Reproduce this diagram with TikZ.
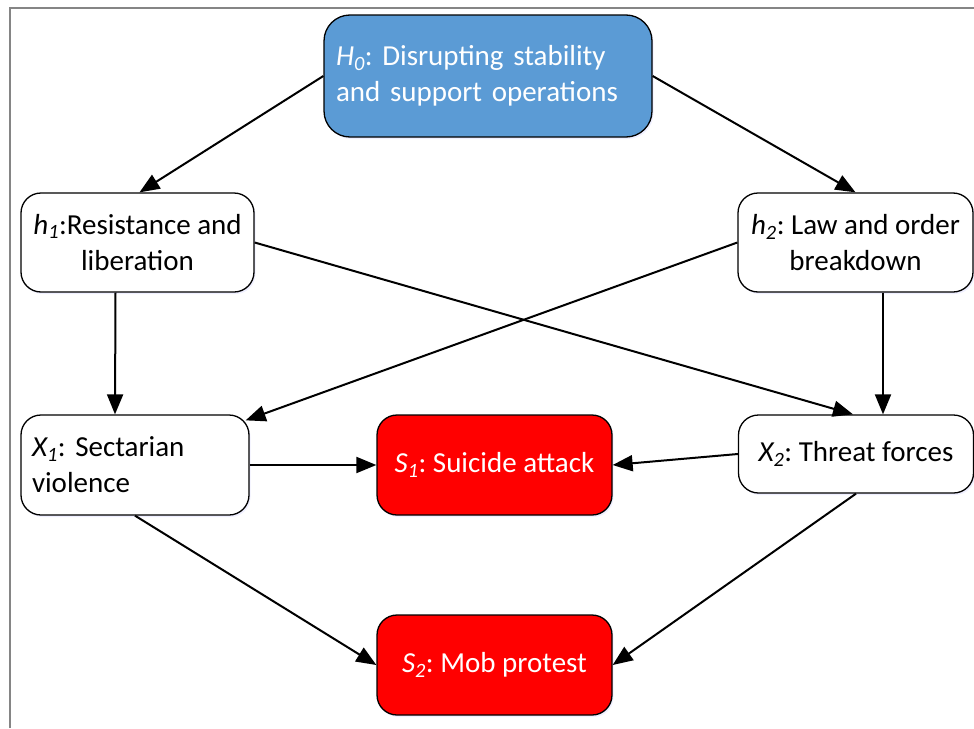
\documentclass[tikz,border=0pt]{standalone}
\usepackage{fontspec}
\setmainfont{Carlito}
\usetikzlibrary{arrows.meta,shadows}
\definecolor{hypblue}{HTML}{5B9BD5}
\definecolor{scenred}{HTML}{FF0000}
\definecolor{framegray}{HTML}{858585}
\frenchspacing
\begin{document}
\begin{tikzpicture}[x=1pt,y=-1pt,
  box/.style={draw=black, line width=1.3pt, rounded corners=20pt, fill=white,
    inner sep=0pt, font=\fontsize{29}{36}\selectfont,
    drop shadow={shadow xshift=1.5pt, shadow yshift=-2pt, opacity=0.35, fill=blue!18}},
  hypbox/.style={box, fill=hypblue, text=white, rounded corners=26pt},
  scenbox/.style={box, fill=scenred, text=white},
  link/.style={line width=2pt, -{Triangle[length=20pt,width=16pt]}}]
\useasboundingbox (0,0) rectangle (974,728);
% frame
\draw[framegray, line width=1.3pt] (10,728) -- (10,8) -- (974,8);
% nodes
\node[hypbox, minimum width=328pt, minimum height=122pt, text width=304pt, align=left]
  (H0) at (488,76) {\textit{H\textsubscript{0}}: Disrupting stability\\and support operations};
\node[box, minimum width=233pt, minimum height=99pt, align=center]
  (h1) at (137.5,242.5) {\textit{h\textsubscript{1}}:Resistance and\\liberation};
\node[box, minimum width=235pt, minimum height=99pt, align=center]
  (h2) at (855.5,242.5) {\textit{h\textsubscript{2}}: Law and order\\breakdown};
\node[box, minimum width=228pt, minimum height=100pt, text width=206pt, align=left]
  (X1) at (135,465) {\textit{X\textsubscript{1}}: Sectarian\\violence};
\node[scenbox, minimum width=235pt, minimum height=100pt, align=center]
  (S1) at (494.5,465) {\textit{S\textsubscript{1}}: Suicide attack};
\node[box, minimum width=235pt, minimum height=78pt, align=center]
  (X2) at (856,454) {\textit{X\textsubscript{2}}: Threat forces};
\node[scenbox, minimum width=235pt, minimum height=100pt, align=center]
  (S2) at (494.5,665) {\textit{S\textsubscript{2}}: Mob protest};
% connectors
\draw[link] (H0.west) -- ([xshift=2pt]h1.north);
\draw[link] (H0.east) -- (h2.north);
\draw[link] ([xshift=-22pt]h1.south) -- ([xshift=-20pt]X1.north);
\draw[link] ([xshift=27.5pt]h2.south) -- ([xshift=27pt]X2.north);
\draw[link] (h1.east) -- ([xshift=-3pt]X2.north);
\draw[link] (h2.west) -- ([xshift=-4pt,yshift=-6pt]X1.north east);
\draw[link] (X1.east) -- (S1.west);
\draw[link] (X2.west) -- (S1.east);
\draw[link] (X1.south) -- (S2.west);
\draw[link] (X2.south) -- (S2.east);
\end{tikzpicture}
\end{document}
